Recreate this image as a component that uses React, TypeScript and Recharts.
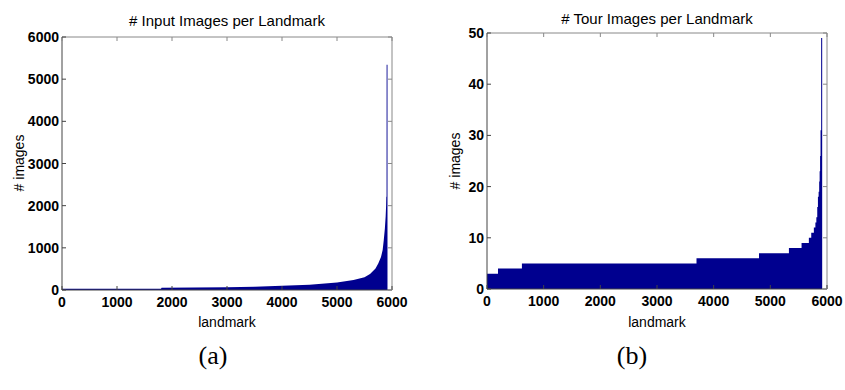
import React from 'react';
import { AreaChart, Area, XAxis, YAxis } from 'recharts';

// ---- data ----
const xTicks = [0, 1000, 2000, 3000, 4000, 5000, 6000];
const leftYTicks = [0, 1000, 2000, 3000, 4000, 5000, 6000];
const rightYTicks = [0, 10, 20, 30, 40, 50];

// (a) # Input Images per Landmark (sorted)
const inputLandmarks = [0, 1800, 1810, 3000, 3500, 4000, 4500, 5000, 5300, 5500, 5600, 5700, 5750, 5800, 5830, 5850, 5870, 5885, 5893, 5896, 5901, 5902, 5918];
const inputImages = [32, 32, 55, 68, 80, 100, 125, 180, 235, 300, 380, 510, 630, 780, 950, 1180, 1450, 1750, 2000, 2210, 2210, 5340, 5340];

// (b) # Tour Images per Landmark (sorted)
const tourLandmarks = [0, 194, 616, 3697, 4800, 5328, 5551, 5680, 5722, 5768, 5795, 5812, 5828, 5840, 5852, 5862, 5870, 5878, 5886, 5897, 5915];
const tourImages = [3, 4, 5, 6, 7, 8, 9, 10, 11, 12, 13, 14, 16, 18, 19, 21, 23, 26, 31, 49, 49];

const inputData = inputLandmarks.map((l, i) => ({ landmark: l, images: inputImages[i] }));
const tourData = tourLandmarks.map((l, i) => ({ landmark: l, images: tourImages[i] }));

const FILL = '#00008F';
const AXIS = '#444';
const AXIS_LIGHT = '#888';
const FONT = "'Liberation Sans', Arial, Helvetica, sans-serif";

const BottomTick = (props: any) => {
  const { x, y, payload } = props;
  return (
    <g>
      <line x1={x} y1={y} x2={x} y2={y - 4} stroke={AXIS} />
      <text x={x} y={y + 17} textAnchor="middle" fontFamily={FONT} fontSize={14} fontWeight="bold" fill="#000">
        {payload.value}
      </text>
    </g>
  );
};
const TopTick = (props: any) => {
  const { x, y } = props;
  return <line x1={x} y1={y} x2={x} y2={y + 4} stroke={AXIS_LIGHT} />;
};
const LeftTick = (props: any) => {
  const { x, y, payload } = props;
  return (
    <g>
      <line x1={x} y1={y} x2={x + 4} y2={y} stroke={AXIS} />
      <text x={x - 3} y={y} dy="0.36em" textAnchor="end" fontFamily={FONT} fontSize={14} fontWeight="bold" fill="#000">
        {payload.value}
      </text>
    </g>
  );
};
const RightTick = (props: any) => {
  const { x, y } = props;
  return <line x1={x} y1={y} x2={x - 4} y2={y} stroke={AXIS_LIGHT} />;
};

type PanelProps = {
  data: { landmark: number; images: number }[];
  yTicks: number[];
  yMax: number;
  width: number;
  yAxisWidth: number;
  margin: { top: number; right: number; bottom: number; left: number };
  curve: 'linear' | 'stepAfter';
};

const Panel = ({ data, yTicks, yMax, width, yAxisWidth, margin, curve }: PanelProps) => (
  <AreaChart width={width} height={390} data={data} margin={margin}>
    <XAxis
      xAxisId="b"
      dataKey="landmark"
      type="number"
      domain={[0, 6000]}
      ticks={xTicks}
      interval={0}
      tickSize={0}
      tickMargin={0}
      tickLine={false}
      height={30}
      axisLine={{ stroke: AXIS }}
      tick={<BottomTick />}
      allowDataOverflow
    />
    <XAxis
      xAxisId="t"
      orientation="top"
      dataKey="landmark"
      type="number"
      domain={[0, 6000]}
      ticks={xTicks}
      interval={0}
      tickSize={0}
      tickMargin={0}
      tickLine={false}
      height={1}
      axisLine={{ stroke: AXIS_LIGHT }}
      tick={<TopTick />}
      allowDataOverflow
    />
    <YAxis
      yAxisId="l"
      type="number"
      domain={[0, yMax]}
      ticks={yTicks}
      interval={0}
      tickSize={0}
      tickMargin={0}
      tickLine={false}
      width={yAxisWidth}
      axisLine={{ stroke: AXIS }}
      tick={<LeftTick />}
      allowDataOverflow
    />
    <YAxis
      yAxisId="r"
      orientation="right"
      type="number"
      domain={[0, yMax]}
      ticks={yTicks}
      interval={0}
      tickSize={0}
      tickMargin={0}
      tickLine={false}
      width={1}
      axisLine={{ stroke: AXIS_LIGHT }}
      tick={<RightTick />}
      allowDataOverflow
    />
    <Area
      xAxisId="b"
      yAxisId="l"
      type={curve}
      dataKey="images"
      stroke="none"
      fill={FILL}
      fillOpacity={1}
      dot={false}
      activeDot={false}
      isAnimationActive={false}
    />
  </AreaChart>
);

export default function App() {
  return (
    <div style={{ position: 'absolute', left: 0, top: 0, width: 845, height: 390, background: '#fff', overflow: 'hidden' }}>
      <div style={{ position: 'absolute', left: 0, top: 0 }}>
        <Panel
          data={inputData}
          yTicks={leftYTicks}
          yMax={6000}
          width={420}
          yAxisWidth={62}
          margin={{ top: 36, right: 27, bottom: 70, left: 0 }}
          curve="linear"
        />
      </div>
      <div style={{ position: 'absolute', left: 420, top: 0 }}>
        <Panel
          data={tourData}
          yTicks={rightYTicks}
          yMax={50}
          width={425}
          yAxisWidth={67}
          margin={{ top: 32, right: 17, bottom: 71, left: 0 }}
          curve="stepAfter"
        />
      </div>
      <svg width={845} height={390} style={{ position: 'absolute', left: 0, top: 0, pointerEvents: 'none' }}>
        <g fontFamily={FONT} fill="#000">
          <text x={227} y={26} textAnchor="middle" fontSize={15}># Input Images per Landmark</text>
          <text x={657} y={23.5} textAnchor="middle" fontSize={15}># Tour Images per Landmark</text>
          <text x={227} y={327} textAnchor="middle" fontSize={14}>landmark</text>
          <text x={657} y={327} textAnchor="middle" fontSize={14}>landmark</text>
          <text transform="translate(24,163) rotate(-90)" textAnchor="middle" fontSize={14}># images</text>
          <text transform="translate(460,161) rotate(-90)" textAnchor="middle" fontSize={14}># images</text>
        </g>
        <g fontFamily="'Liberation Serif', 'Times New Roman', serif" fill="#000" fontSize={26}>
          <text x={213} y={364} textAnchor="middle">(a)</text>
          <text x={632} y={364} textAnchor="middle">(b)</text>
        </g>
      </svg>
    </div>
  );
}
